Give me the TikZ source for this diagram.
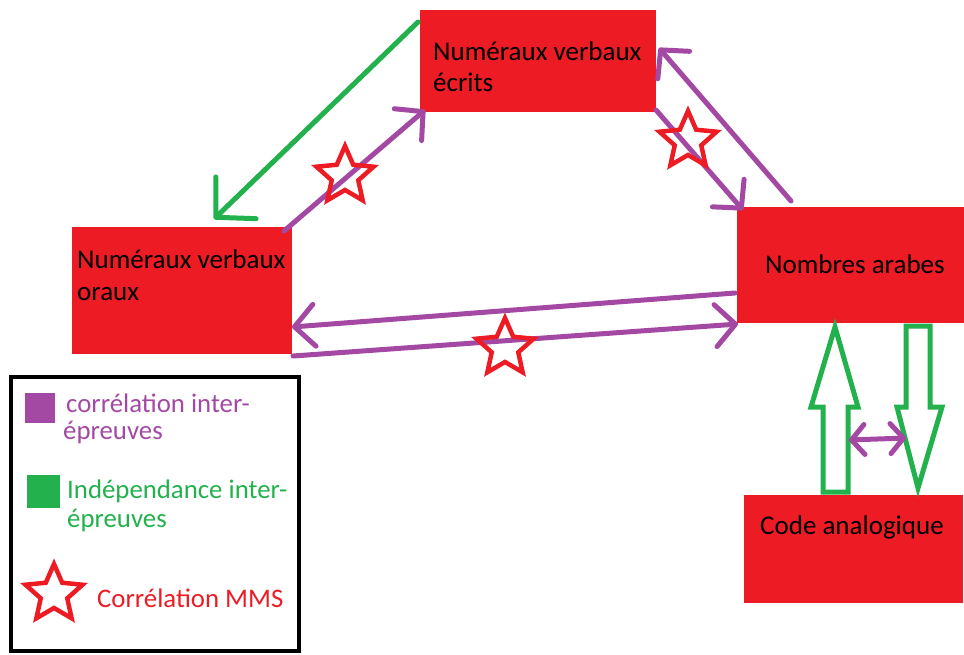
\documentclass[tikz,border=0pt]{standalone}
\usepackage{fontspec}
\setmainfont{Carlito}
\usetikzlibrary{arrows.meta,shapes.geometric}
\definecolor{pred}{HTML}{ED1C24}
\definecolor{ppurple}{HTML}{A349A4}
\definecolor{pgreen}{HTML}{22B14C}
\tikzset{
  box/.style={fill=pred, draw=none, inner sep=0},
  boxtext/.style={anchor=base west, inner sep=0, font=\fontsize{27}{32}\selectfont},
  legtext/.style={anchor=base west, inner sep=0, font=\fontsize{26.8}{30}\selectfont},
  purp/.style={draw=ppurple, line width=5pt, line cap=round},
  grn/.style={draw=pgreen, line width=5pt, line cap=round},
  ptip/.style={-{Straight Barb[length=20pt,width=42pt,round]}},
  ptiptwo/.style={{Straight Barb[length=13pt,width=30pt,round]}-{Straight Barb[length=13pt,width=30pt,round]}},
  gtip/.style={-{Straight Barb[length=28pt,width=58pt,round]}},
  mms/.style={star, star points=5, star point ratio=2.15, draw=pred, line width=4.5pt, inner sep=0, minimum size=60pt},
  hollow/.style={draw=pgreen, line width=5pt, line join=miter}
}
\begin{document}
\begin{tikzpicture}[x=1pt,y=-1pt]
\useasboundingbox (0,0) rectangle (964,654);
% boxes
\node[box, minimum width=236pt, minimum height=102pt, anchor=north west] (ecr) at (420,10) {};
\node[box, minimum width=220pt, minimum height=127pt, anchor=north west] (ora) at (72,227) {};
\node[box, minimum width=227pt, minimum height=116pt, anchor=north west] (ara) at (737,207) {};
\node[box, minimum width=219pt, minimum height=108pt, anchor=north west] (ana) at (744,495) {};
% box texts
\node[boxtext] (t1) at (433,60) {Numéraux verbaux};
\node[boxtext] (t2) at (433,91) {écrits};
\node[boxtext] (t3) at (77,268) {Numéraux verbaux};
\node[boxtext] (t4) at (77,300) {oraux};
\node[boxtext] (t5) at (765,273) {Nombres arabes};
\node[boxtext] (t6) at (760,534) {Code analogique};
% endpoints
\coordinate (g1) at (418,22);
\coordinate (g2) at (214,219);
\coordinate (a1) at (284,231);
\coordinate (a2) at (425,110);
\coordinate (b1) at (656,110);
\coordinate (b2) at (743,210);
\coordinate (c1) at (791,201);
\coordinate (c2) at (659,48);
\coordinate (d1) at (735,293);
\coordinate (d2) at (292,327);
\coordinate (e1) at (293,356);
\coordinate (e2) at (738,324);
\coordinate (f1) at (849,440);
\coordinate (f2) at (906,438);
% connectors
\draw[grn, gtip] (g1) -- (g2);
\draw[purp, ptip] (a1) -- (a2);
\draw[purp, ptip] (b1) -- (b2);
\draw[purp, ptip] (c1) -- (c2);
\draw[purp, ptip] (d1) -- (d2);
\draw[purp, ptip] (e1) -- (e2);
% hollow arrows
\draw[hollow] (823,492) -- (823,407) -- (811,407) -- (835,327) -- (858,407) -- (848,407) -- (848,492) -- cycle;
\draw[hollow] (906,326) -- (906,407) -- (897,407) -- (918,488) -- (942,407) -- (930,407) -- (930,326) -- cycle;
\draw[purp, ptiptwo] (f1) -- (f2);
% stars
\node[mms] (s1) at (345,176) {};
\node[mms] (s2) at (688,141) {};
\node[mms] (s3) at (505,348) {};
% legend
\draw[line width=4.5pt] (11,377) rectangle (299,651);
\fill[ppurple] (25,393) rectangle (55,423);
\fill[pgreen] (27,475) rectangle (60,508);
\node[mms] (s4) at (54,594) {};
\node[legtext, text=ppurple] (l1) at (66,412) {corrélation inter-};
\node[legtext, text=ppurple] (l2) at (63,439) {épreuves};
\node[legtext, text=pgreen] (l3) at (67,498) {Indépendance inter-};
\node[legtext, text=pgreen] (l4) at (67,527) {épreuves};
\node[legtext, text=pred] (l5) at (97,607) {Corrélation MMS};
\end{tikzpicture}
\end{document}
